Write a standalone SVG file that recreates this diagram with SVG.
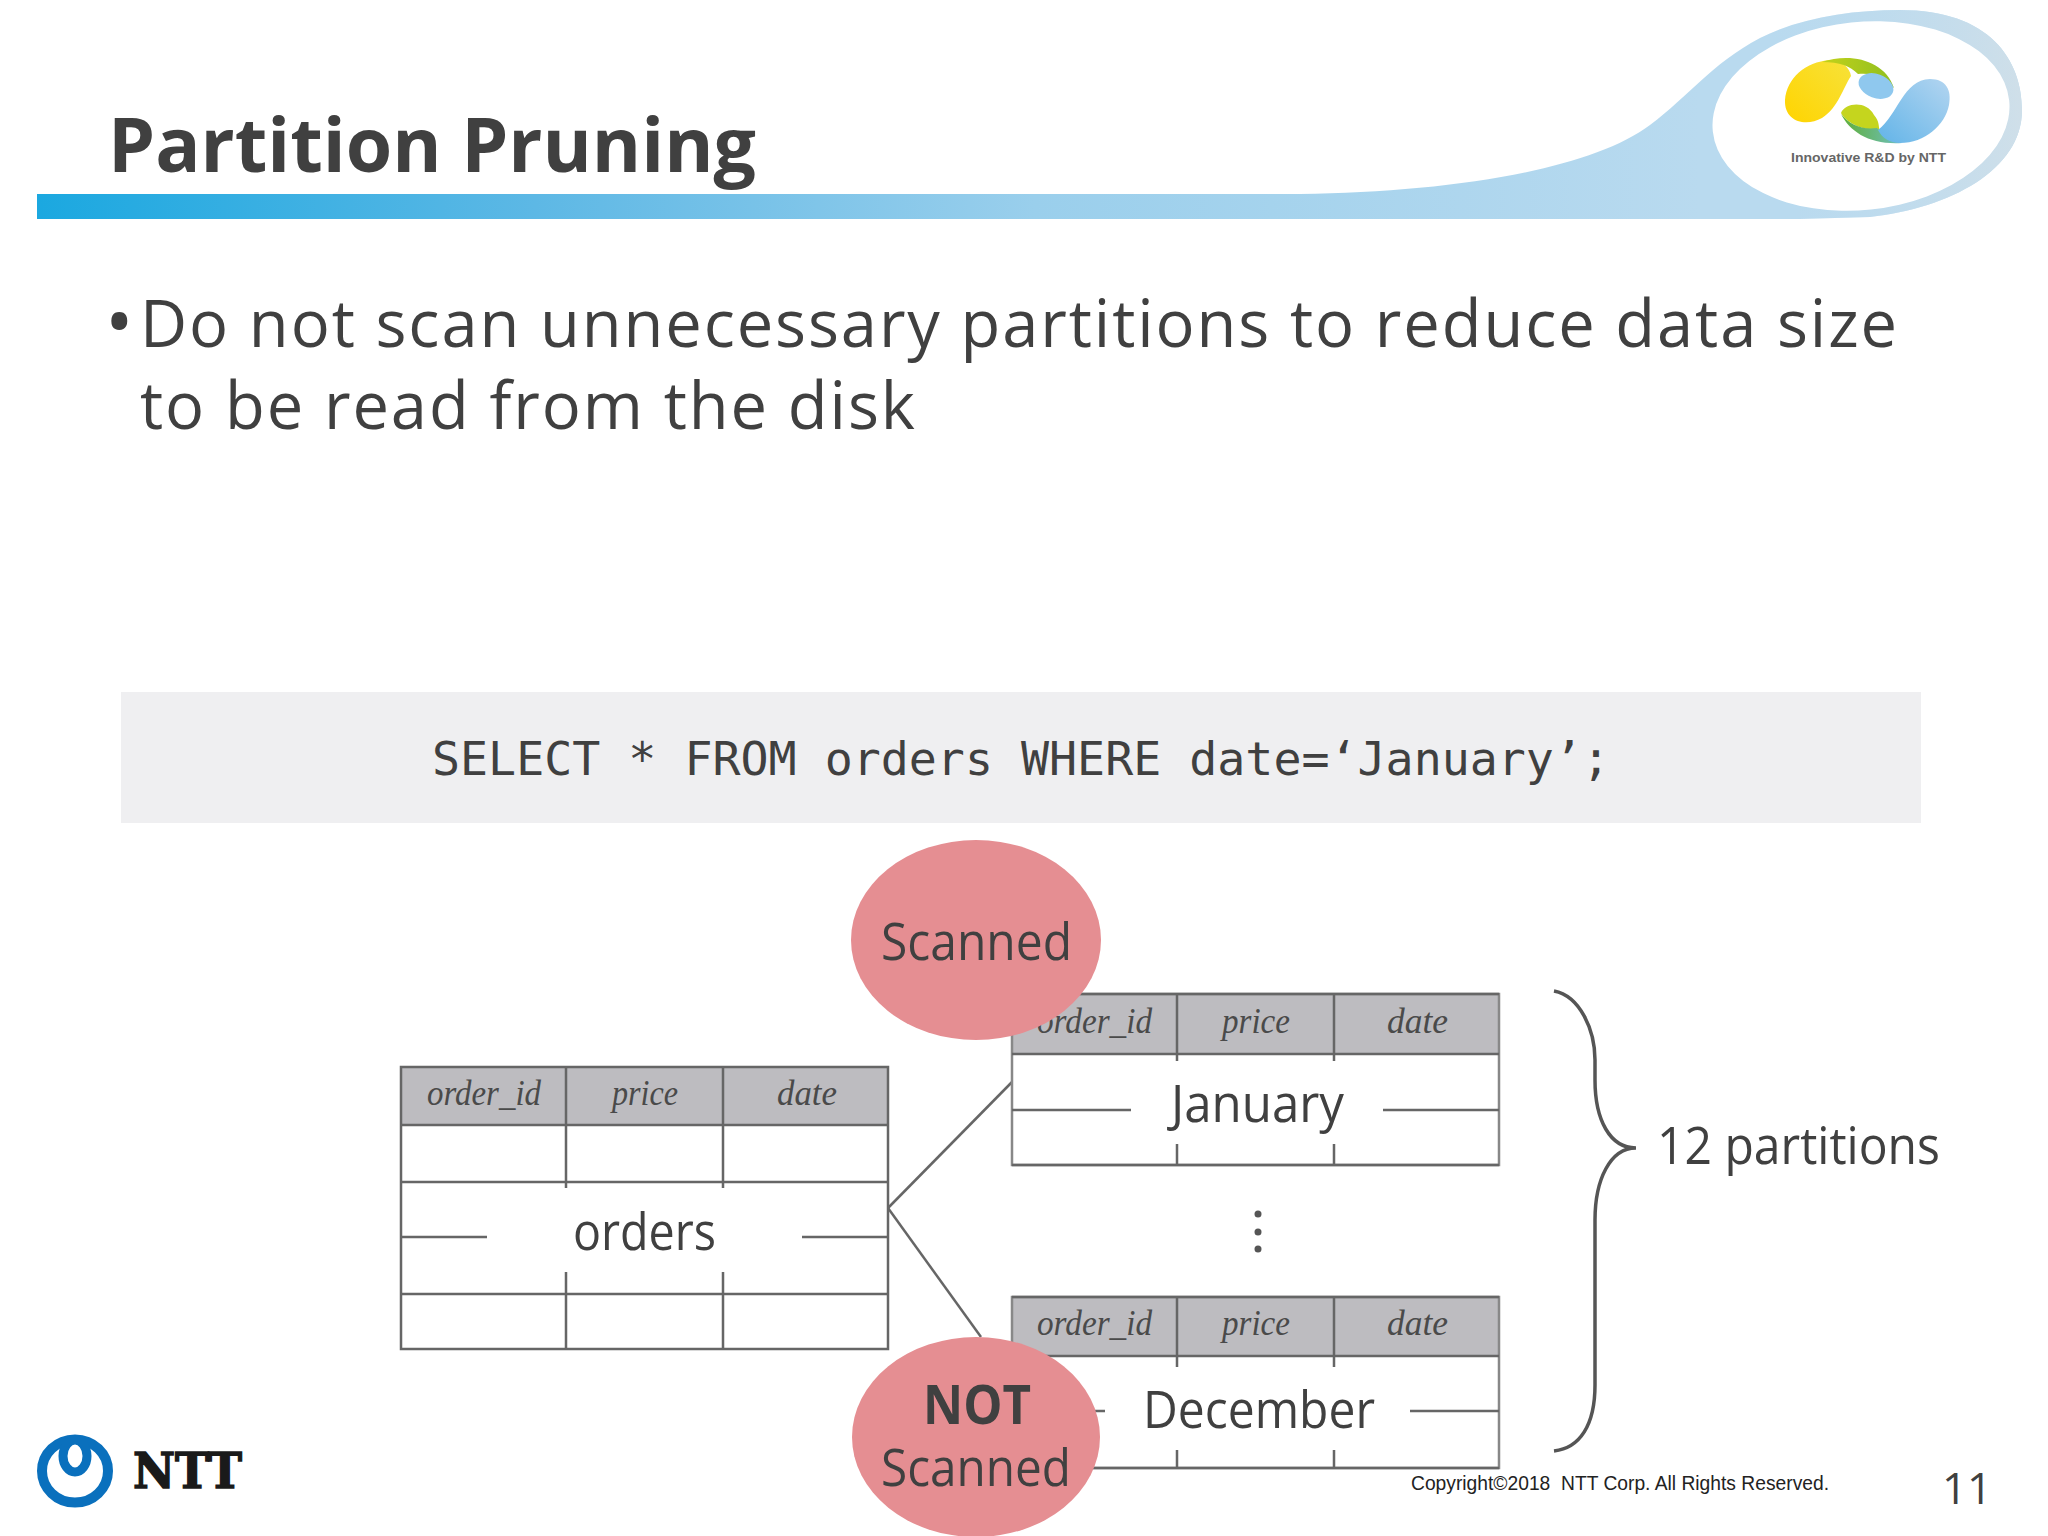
<svg xmlns="http://www.w3.org/2000/svg" width="2048" height="1536" viewBox="0 0 2048 1536">
<defs>
<linearGradient id="band" gradientUnits="userSpaceOnUse" x1="37" y1="0" x2="1700" y2="0">
<stop offset="0" stop-color="#1ba8e0"/><stop offset="0.3" stop-color="#5db8e5"/><stop offset="0.6" stop-color="#9acfec"/><stop offset="1" stop-color="#b9daef"/>
</linearGradient>
<linearGradient id="ring" gradientUnits="userSpaceOnUse" x1="1750" y1="0" x2="2020" y2="0">
<stop offset="0" stop-color="#b9daef" stop-opacity="0"/><stop offset="1" stop-color="#cfdfe9"/>
</linearGradient>
<linearGradient id="yel" x1="0" y1="1" x2="1" y2="0"><stop offset="0" stop-color="#ffd400"/><stop offset="1" stop-color="#f7e23a"/></linearGradient>
<linearGradient id="grn" x1="0" y1="0" x2="1" y2="0"><stop offset="0" stop-color="#c3d21a"/><stop offset="1" stop-color="#8fbf20"/></linearGradient>
<linearGradient id="grn2" x1="0" y1="0" x2="1" y2="0"><stop offset="0" stop-color="#5fae35"/><stop offset="1" stop-color="#6fc0c0"/></linearGradient>
<linearGradient id="blu" x1="0" y1="1" x2="1" y2="0"><stop offset="0" stop-color="#62b4e8"/><stop offset="1" stop-color="#b3d5f0"/></linearGradient>
<style>
text{font-family:"Open Sans","Noto Sans","Liberation Sans",sans-serif;fill:#404040}
.h{font-family:"Liberation Serif",serif;font-style:italic;font-size:36px;fill:#4a4a4a}
.l{font-size:51px}
.hd{fill:#bdbcc0}
.t{fill:none;stroke:#666;stroke-width:2.5}
.g{fill:none;stroke:#888;stroke-width:2.5}
.c{fill:#e58e92}
</style>
</defs>
<rect width="2048" height="1536" fill="#fff"/>
<g id="banner">
<path d="M37 194H1300C1450 192 1590 170 1650 125C1690 95 1710 65 1760 38C1800 18 1850 10 1900 10C1990 10 2022 60 2022 110C2022 170 1950 208 1870 217L1800 219H37Z" fill="url(#band)"/>
<path d="M1760 38C1800 18 1850 10 1900 10C1990 10 2022 60 2022 110C2022 170 1950 208 1870 217L1800 219V38Z" fill="url(#ring)"/>
<ellipse cx="1861" cy="116" rx="149" ry="94" transform="rotate(-6 1861 116)" fill="#fff"/>
<path d="M1785 100C1787 78 1805 62 1830 60C1842 60 1850 68 1851 76C1843 88 1838 108 1822 118C1806 127 1784 122 1785 100Z" fill="url(#yel)"/>
<path d="M1822 62C1850 52 1885 60 1894 88C1885 80 1875 72 1858 74C1850 66 1840 62 1822 62Z" fill="url(#grn)"/>
<ellipse cx="1876" cy="86" rx="18" ry="12" transform="rotate(20 1876 86)" fill="#8fc8ee"/>
<path d="M1841 113C1845 103 1866 100 1874 115C1880 122 1878 126 1880 131C1865 130 1848 125 1841 113Z" fill="#c5d51e"/>
<path d="M1841 114C1850 132 1870 145 1902 143C1888 136 1882 133 1877 128C1862 130 1850 125 1841 114Z" fill="url(#grn2)"/>
<path d="M1878 130C1898 115 1903 80 1930 79C1946 79 1952 90 1949 105C1945 125 1925 143 1900 143C1890 143 1882 138 1878 130Z" fill="url(#blu)"/>
<text x="1791" y="162" style="font-family:'Liberation Sans',sans-serif;font-size:13px;font-weight:700;fill:#666" textLength="155" lengthAdjust="spacingAndGlyphs">Innovative R&amp;D by NTT</text>
</g>
<g id="title"><text x="108" y="172" font-size="76" font-weight="700" textLength="648" lengthAdjust="spacingAndGlyphs">Partition Pruning</text></g>
<g id="bullets">
<text x="105" y="349" font-size="76">•</text>
<text x="140" y="347" font-size="65" textLength="1757" lengthAdjust="spacing">Do not scan unnecessary partitions to reduce data size</text>
<text x="140" y="429" font-size="65" textLength="775" lengthAdjust="spacing">to be read from the disk</text>
</g>
<g id="query">
<rect x="121" y="692" width="1800" height="131" fill="#efeff1"/>
<text x="432" y="775" style="font-family:'DejaVu Sans Mono',monospace;font-size:46px" textLength="1178" lengthAdjust="spacingAndGlyphs">SELECT * FROM orders WHERE date=‘January’;</text>
</g>
<g id="connectors">
<path d="M888 1208L1012 1082" class="t"/>
<path d="M888 1208L981 1337" class="t"/>
</g>
<g id="orders-table">
<rect x="401" y="1067" width="487" height="58" class="hd"/>
<rect x="401" y="1067" width="487" height="282" class="t"/>
<path d="M401 1125H888M401 1182H888M401 1294H888M401 1237H487M802 1237H888M566 1067V1188M723 1067V1188M566 1272V1349M723 1272V1349" class="t"/>
<text class="h" x="427" y="1105" textLength="114" lengthAdjust="spacingAndGlyphs">order_id</text>
<text class="h" x="612" y="1105" textLength="66" lengthAdjust="spacingAndGlyphs">price</text>
<text class="h" x="777" y="1105" textLength="60" lengthAdjust="spacingAndGlyphs">date</text>
<text class="l" x="573" y="1250" textLength="143" lengthAdjust="spacingAndGlyphs">orders</text>
</g>
<g id="january-table">
<rect x="1012" y="994" width="487" height="60" class="hd"/>
<path d="M1012 994H1499V1165H1012Z" class="g"/>
<path d="M1012 994H1499M1012 1054H1499M1012 1165H1499M1012 1110H1131M1383 1110H1499M1177 994V1061M1334 994V1061M1177 1144V1165M1334 1144V1165" class="t"/>
<text class="h" x="1037" y="1033" textLength="115" lengthAdjust="spacingAndGlyphs">order_id</text>
<text class="h" x="1222" y="1033" textLength="68" lengthAdjust="spacingAndGlyphs">price</text>
<text class="h" x="1387" y="1033" textLength="61" lengthAdjust="spacingAndGlyphs">date</text>
<text class="l" x="1171" y="1122" textLength="173" lengthAdjust="spacingAndGlyphs">January</text>
</g>
<g id="ellipsis">
<circle cx="1258" cy="1214" r="3.5" fill="#555"/><circle cx="1258" cy="1232" r="3.5" fill="#555"/><circle cx="1258" cy="1249" r="3.5" fill="#555"/>
</g>
<g id="december-table">
<rect x="1012" y="1297" width="487" height="59" class="hd"/>
<path d="M1012 1297H1499V1468H1012Z" class="g"/>
<path d="M1012 1297H1499M1012 1356H1499M1012 1468H1499M1012 1411H1105M1410 1411H1499M1177 1297V1367M1334 1297V1367M1177 1450V1468M1334 1450V1468" class="t"/>
<text class="h" x="1037" y="1335" textLength="115" lengthAdjust="spacingAndGlyphs">order_id</text>
<text class="h" x="1222" y="1335" textLength="68" lengthAdjust="spacingAndGlyphs">price</text>
<text class="h" x="1387" y="1335" textLength="61" lengthAdjust="spacingAndGlyphs">date</text>
<text class="l" x="1143" y="1428" textLength="232" lengthAdjust="spacingAndGlyphs">December</text>
</g>
<g id="scanned">
<ellipse cx="976" cy="940" rx="125" ry="100" class="c"/>
<text class="l" x="881" y="960" textLength="191" lengthAdjust="spacingAndGlyphs">Scanned</text>
</g>
<g id="not-scanned">
<ellipse cx="976" cy="1437" rx="124" ry="100" class="c"/>
<text x="923" y="1424" style="font-size:54px" font-weight="700" textLength="108" lengthAdjust="spacingAndGlyphs">NOT</text>
<text class="l" x="881" y="1486" textLength="190" lengthAdjust="spacingAndGlyphs">Scanned</text>
</g>
<g id="brace">
<path d="M1554 991C1580 996 1595 1030 1595 1060V1080C1595 1120 1610 1148 1636 1148C1610 1148 1595 1180 1595 1220V1385C1595 1425 1580 1448 1554 1451" fill="none" stroke="#555" stroke-width="3.5"/>
<text class="l" x="1657" y="1164" textLength="283" lengthAdjust="spacingAndGlyphs">12 partitions</text>
</g>
<g id="footer">
<ellipse cx="75" cy="1471" rx="33" ry="31.5" fill="none" stroke="#0a70bd" stroke-width="10"/>
<ellipse cx="75" cy="1456" rx="12" ry="16" fill="#fff" stroke="#0a70bd" stroke-width="9"/>
<text x="133" y="1488" style="font-family:'DejaVu Serif',serif;font-weight:700;font-size:49px;fill:#1a1a1a;stroke:#1a1a1a;stroke-width:1.5" textLength="109" lengthAdjust="spacingAndGlyphs">NTT</text>
<text x="1411" y="1490" style="font-family:'Liberation Sans',sans-serif;font-size:19.5px;fill:#222" textLength="418" lengthAdjust="spacingAndGlyphs">Copyright©2018 &#160;NTT Corp. All Rights Reserved.</text>
<text x="1942" y="1504" style="font-size:44px" textLength="50" lengthAdjust="spacingAndGlyphs">11</text>
</g>
</svg>
